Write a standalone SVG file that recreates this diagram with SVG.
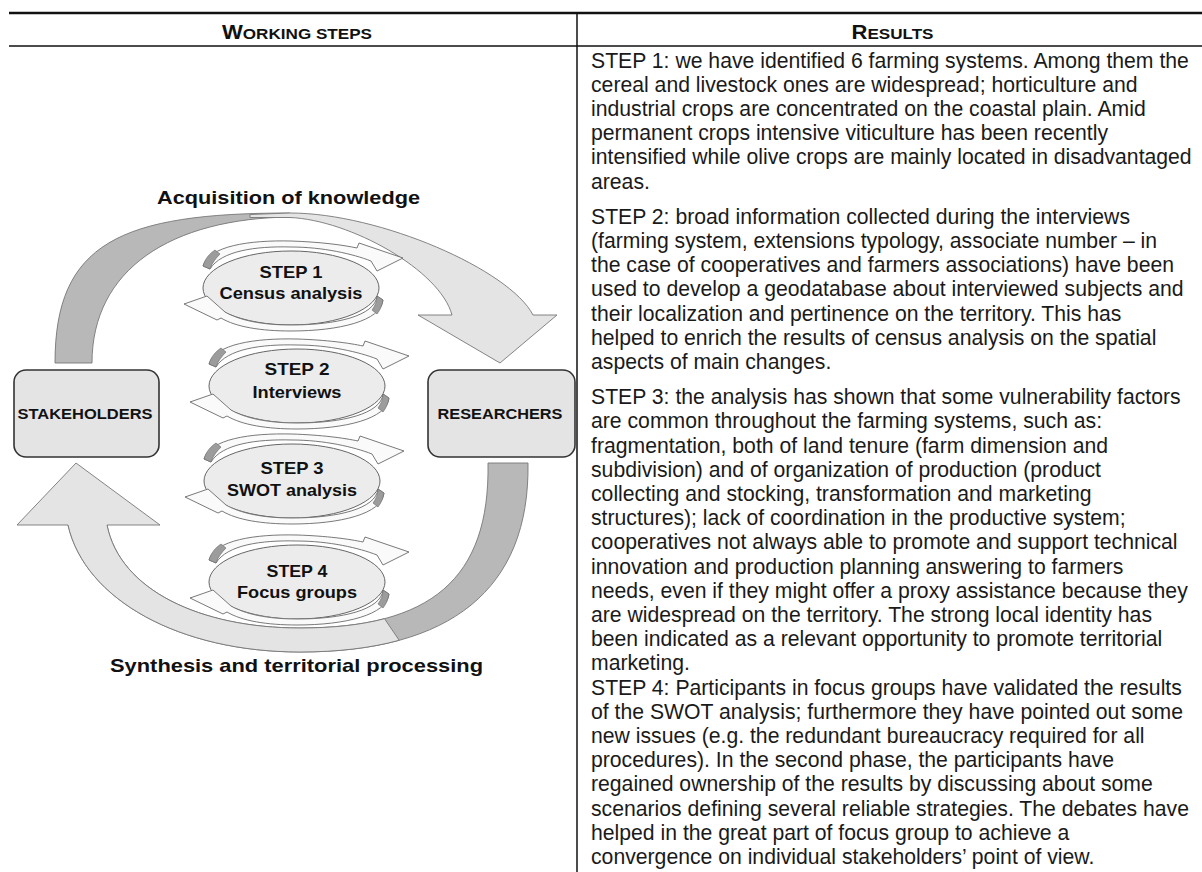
<svg xmlns="http://www.w3.org/2000/svg" width="1202" height="872" viewBox="0 0 1202 872">
<style>
.hdr{font-family:"Liberation Sans",Arial,sans-serif;font-weight:bold;fill:#111}
.body{font-family:"Liberation Sans",Arial,sans-serif;font-size:21.2px;fill:#1a1a1a}
.lbl{font-family:"Liberation Sans",Arial,sans-serif;font-weight:bold;fill:#111;text-anchor:middle}
.ell{fill:#ececec;stroke:#666;stroke-width:1}
.band{fill:#fafafa;stroke:#6a6a6a;stroke-width:0.9}
.tail{fill:#9c9c9c;stroke:#6a6a6a;stroke-width:0.6}
.box{fill:#e4e4e4;stroke:#333;stroke-width:1.6}
.bigdark{fill:#b8b8b8;stroke:#777;stroke-width:0.9}
.biglight{fill:#e4e4e4;stroke:#777;stroke-width:0.9}
.rule{stroke:#111;fill:none}
</style>
<defs>
<g id="circ">
<path class="band" d="M -88,-22 C -82,-42 -42,-48 0,-47 C 30,-46 52,-43 66,-40 L 68,-45 L 112,-30 L 86,-17 L 80,-27 C 62,-34 32,-41 0,-41 C -36,-42 -70,-37 -81,-19 Z"/>
<path class="tail" d="M -88,-22 C -86,-29 -82,-34 -76,-38 L -71,-34 C -75,-30 -79,-25 -81,-19 Z"/>
<path class="band" d="M 86,8 C 84,28 45,37 0,37 C -30,37 -52,32 -66,24 L -84,8 L -107,16 L -74,32 L -70,30 C -55,39 -30,43 0,43 C 48,43 90,33 92,12 Z"/>
<path class="tail" d="M 86,8 L 92,12 C 91,18 89,22 86,26 L 81,22 C 84,18 86,13 86,8 Z"/>
</g>
</defs>
<rect width="1202" height="872" fill="#fff"/>
<g id="table">
<line class="rule" x1="9" y1="13" x2="1202" y2="13" stroke-width="2.5"/>
<line class="rule" x1="9" y1="46" x2="1202" y2="46" stroke-width="1.6"/>
<line class="rule" x1="577" y1="13" x2="577" y2="872" stroke-width="1.5"/>
<text class="hdr" x="297" y="39" text-anchor="middle" textLength="150" lengthAdjust="spacingAndGlyphs"><tspan font-size="20">W</tspan><tspan font-size="15.5">ORKING STEPS</tspan></text>
<text class="hdr" x="892.5" y="39" text-anchor="middle" textLength="82" lengthAdjust="spacingAndGlyphs"><tspan font-size="20">R</tspan><tspan font-size="15.5">ESULTS</tspan></text>
</g>
<g id="arrows">
<path class="bigdark" d="M 55,363 C 55,243 120,213 290,213 L 292,217 C 170,218 92,270 92,363 Z"/>
<path class="biglight" d="M 250,214.5 L 290,213 C 380,213 510,270 533,315 L 557,315 L 500,363 L 418,315 L 452,315 C 440,270 350,220 290,217.5 L 250,217.5 Z"/>
<path class="bigdark" d="M 68,525 C 85,600 180,652 300,652 C 450,652 530,590 528,463 L 488,463 C 490,580 430,628 300,628 C 200,628 120,590 107,525 Z"/>
<path class="biglight" d="M 17,525 L 76,463 L 160,525 L 107,525 C 120,590 200,628 300,628 C 332.5,628 360.6,625 384.5,618.7 L 399.2,640.3 C 370.6,648.1 337.5,652 300,652 C 180,652 85,600 68,525 Z"/>
</g>
<g id="acq"><text class="lbl" x="288.5" y="204" font-size="19" textLength="263" lengthAdjust="spacingAndGlyphs">Acquisition of knowledge</text></g>
<g id="synth"><text class="lbl" x="296.5" y="672" font-size="19" textLength="373" lengthAdjust="spacingAndGlyphs">Synthesis and territorial processing</text></g>
<g id="stakeholders">
<rect class="box" x="14" y="370" width="145" height="87" rx="12"/>
<text class="lbl" x="85" y="418.5" font-size="15.5" textLength="135" lengthAdjust="spacingAndGlyphs">STAKEHOLDERS</text>
</g>
<g id="researchers">
<rect class="box" x="428" y="370" width="147" height="87" rx="12"/>
<text class="lbl" x="500" y="418.5" font-size="15.5" textLength="125" lengthAdjust="spacingAndGlyphs">RESEARCHERS</text>
</g>
<g id="step1" transform="translate(291 288)">
<ellipse class="ell" cx="0" cy="0" rx="88" ry="37"/>
<use href="#circ"/>
<text class="lbl" x="0" y="-10" font-size="17" textLength="63" lengthAdjust="spacingAndGlyphs">STEP 1</text>
<text class="lbl" x="0" y="11" font-size="17" textLength="143" lengthAdjust="spacingAndGlyphs">Census analysis</text>
</g>
<g id="step2" transform="translate(297 386)">
<ellipse class="ell" cx="0" cy="0" rx="88" ry="37"/>
<use href="#circ"/>
<text class="lbl" x="0" y="-11" font-size="17" textLength="65" lengthAdjust="spacingAndGlyphs">STEP 2</text>
<text class="lbl" x="0" y="12" font-size="17" textLength="89" lengthAdjust="spacingAndGlyphs">Interviews</text>
</g>
<g id="step3" transform="translate(292 481)">
<ellipse class="ell" cx="0" cy="0" rx="88" ry="37"/>
<use href="#circ"/>
<text class="lbl" x="0" y="-7" font-size="17" textLength="63" lengthAdjust="spacingAndGlyphs">STEP 3</text>
<text class="lbl" x="0" y="15" font-size="17" textLength="130" lengthAdjust="spacingAndGlyphs">SWOT analysis</text>
</g>
<g id="step4" transform="translate(297 582)">
<ellipse class="ell" cx="0" cy="0" rx="88" ry="37"/>
<use href="#circ"/>
<text class="lbl" x="0" y="-5" font-size="17" textLength="61" lengthAdjust="spacingAndGlyphs">STEP 4</text>
<text class="lbl" x="0" y="16" font-size="17" textLength="120" lengthAdjust="spacingAndGlyphs">Focus groups</text>
</g>
<g id="results">
<text class="body">
<tspan x="591" y="67.5">STEP 1: we have identified 6 farming systems. Among them the</tspan>
<tspan x="591" y="91.7">cereal and livestock ones are widespread; horticulture and</tspan>
<tspan x="591" y="115.9">industrial crops are concentrated on the coastal plain. Amid</tspan>
<tspan x="591" y="140.1">permanent crops intensive viticulture has been recently</tspan>
<tspan x="591" y="164.3">intensified while olive crops are mainly located in disadvantaged</tspan>
<tspan x="591" y="188.5">areas.</tspan>
<tspan x="591" y="223.7">STEP 2: broad information collected during the interviews</tspan>
<tspan x="591" y="247.9">(farming system, extensions typology, associate number – in</tspan>
<tspan x="591" y="272.1">the case of cooperatives and farmers associations) have been</tspan>
<tspan x="591" y="296.3">used to develop a geodatabase about interviewed subjects and</tspan>
<tspan x="591" y="320.5">their localization and pertinence on the territory. This has</tspan>
<tspan x="591" y="344.7">helped to enrich the results of census analysis on the spatial</tspan>
<tspan x="591" y="368.9">aspects of main changes.</tspan>
<tspan x="591" y="404.1">STEP 3: the analysis has shown that some vulnerability factors</tspan>
<tspan x="591" y="428.3">are common throughout the farming systems, such as:</tspan>
<tspan x="591" y="452.5">fragmentation, both of land tenure (farm dimension and</tspan>
<tspan x="591" y="476.7">subdivision) and of organization of production (product</tspan>
<tspan x="591" y="500.9">collecting and stocking, transformation and marketing</tspan>
<tspan x="591" y="525.1">structures); lack of coordination in the productive system;</tspan>
<tspan x="591" y="549.3">cooperatives not always able to promote and support technical</tspan>
<tspan x="591" y="573.5">innovation and production planning answering to farmers</tspan>
<tspan x="591" y="597.7">needs, even if they might offer a proxy assistance because they</tspan>
<tspan x="591" y="621.9">are widespread on the territory. The strong local identity has</tspan>
<tspan x="591" y="646.1">been indicated as a relevant opportunity to promote territorial</tspan>
<tspan x="591" y="670.3">marketing.</tspan>
<tspan x="591" y="694.5">STEP 4: Participants in focus groups have validated the results</tspan>
<tspan x="591" y="718.7">of the SWOT analysis; furthermore they have pointed out some</tspan>
<tspan x="591" y="742.9">new issues (e.g. the redundant bureaucracy required for all</tspan>
<tspan x="591" y="767.1">procedures). In the second phase, the participants have</tspan>
<tspan x="591" y="791.3">regained ownership of the results by discussing about some</tspan>
<tspan x="591" y="815.5">scenarios defining several reliable strategies. The debates have</tspan>
<tspan x="591" y="839.7">helped in the great part of focus group to achieve a</tspan>
<tspan x="591" y="863.9">convergence on individual stakeholders’ point of view.</tspan>
</text>
</g>
</svg>
